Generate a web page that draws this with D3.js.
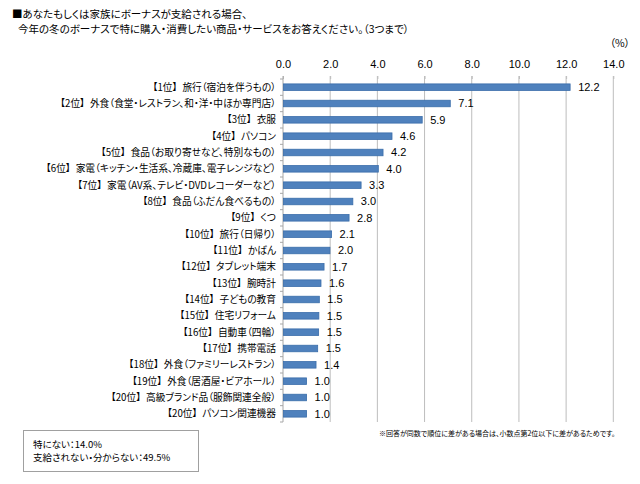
<!DOCTYPE html>
<html><head><meta charset="utf-8">
<script src="https://cdn.jsdelivr.net/npm/d3@7"></script>
<style>
body{margin:0;background:#fff;}
svg text{font-family:"Noto Sans CJK JP","Noto Sans",sans-serif;font-feature-settings:"palt";}
.num{font-family:"Liberation Sans",Arial,sans-serif !important;}
</style></head>
<body>
<svg id="c" width="640" height="484"></svg>
<script>
const titleLines = ["■あなたもしくは家族にボーナスが支給される場合、","今年の冬のボーナスで特に購入・消費したい商品・サービスをお答えください。（3つまで）"];
const ranks = ["【1位】","【2位】","【3位】","【4位】","【5位】","【6位】","【7位】","【8位】","【9位】","【10位】","【11位】","【12位】","【13位】","【14位】","【15位】","【16位】","【17位】","【18位】","【19位】","【20位】","【20位】"];
const items = ["旅行（宿泊を伴うもの）","外食（食堂・レストラン、和・洋・中ほか専門店）","衣服","パソコン","食品（お取り寄せなど、特別なもの）","家電（キッチン・生活系、冷蔵庫、電子レンジなど）","家電（AV系、テレビ・DVDレコーダーなど）","食品（ふだん食べるもの）","くつ","旅行（日帰り）","かばん","タブレット端末","腕時計","子どもの教育","住宅リフォーム","自動車（四輪）","携帯電話","外食（ファミリーレストラン）","外食（居酒屋・ビアホール）","高級ブランド品（服飾関連全般）","パソコン関連機器"];
const values = [12.17,7.09,5.9,4.62,4.24,4.04,3.31,2.96,2.8,2.06,1.99,1.74,1.61,1.54,1.52,1.51,1.47,1.4,1.0,1.0,1.0];
const xTicks = [0,2,4,6,8,10,12,14];
const unitLabel = "（%）";
const noteText = "※回答が同数で順位に差がある場合は、小数点第2位以下に差があるためです。";
const boxLines = ["特にない：14.0%","支給されない・分からない：49.5%"];

const svg = d3.select("#c");
const x = d3.scaleLinear().domain([0,14]).range([283,613.3]);
const keys = ranks.map((r,i)=>i);
const y = d3.scaleBand().domain(keys).range([79,422]).paddingInner(0.6).paddingOuter(0.3);
const fmt = d3.format(".1f");

// title
svg.append("text").attr("x",12).attr("y",18).attr("font-size",10.5).attr("fill","#000").text(titleLines[0]);
svg.append("text").attr("x",18).attr("y",33).attr("font-size",10.5).attr("fill","#000").text(titleLines[1]);
svg.append("text").attr("x",630).attr("y",47).attr("text-anchor","end").attr("font-size",10.5).attr("fill","#000").text(unitLabel);

// gridlines
svg.append("g").selectAll("line").data(xTicks.slice(1)).join("line")
  .attr("x1",d=>x(d)).attr("x2",d=>x(d)).attr("y1",76).attr("y2",422)
  .attr("stroke","#bdbdbd").attr("stroke-width",1);

// top axis
const ax = svg.append("g").attr("transform","translate(0,79)")
  .call(d3.axisTop(x).tickValues(xTicks).tickFormat(fmt).tickSize(3).tickPadding(8));
ax.select(".domain").remove();
ax.selectAll(".tick line").attr("stroke","#bdbdbd");
ax.selectAll(".tick text").attr("class","num").attr("font-size",11).attr("fill","#000");

// left axis line and category ticks at band boundaries
svg.append("line").attr("x1",x(0)).attr("x2",x(0)).attr("y1",76).attr("y2",422).attr("stroke","#a6a6a6");
const step = y.step();
const y0 = y.range()[0];
const bounds = d3.range(keys.length+1).map(i=>y0 + i*(y.range()[1]-y0)/keys.length);
svg.append("g").selectAll("line").data(bounds).join("line")
  .attr("x1",x(0)-3).attr("x2",x(0)).attr("y1",d=>d).attr("y2",d=>d)
  .attr("stroke","#a6a6a6");

// bars
svg.append("g").selectAll("rect").data(values).join("rect")
  .attr("x",x(0)+0.5).attr("y",(d,i)=>y(i))
  .attr("width",d=>x(d)-x(0)-0.5).attr("height",y.bandwidth())
  .attr("fill","#4F81BD").attr("stroke","#3A6DAA").attr("stroke-width",0.8);

// value labels
svg.append("g").selectAll("text").data(values).join("text")
  .attr("class","num")
  .attr("x",d=>x(d)+8).attr("y",(d,i)=>y(i)+y.bandwidth()/2).attr("dy","0.36em")
  .attr("font-size",11).attr("fill","#000").text(d=>fmt(d));

// category labels
const cl = svg.append("g").selectAll("text").data(keys).join("text")
  .attr("x",276).attr("y",i=>y(i)+y.bandwidth()/2).attr("dy","0.36em")
  .attr("text-anchor","end").attr("font-size",9.7).attr("fill","#000");
cl.append("tspan").text(i=>ranks[i]);
cl.append("tspan").attr("dx",5).text(i=>items[i]);

// note
svg.append("text").attr("x",379).attr("y",436).attr("font-size",7).attr("fill","#000").text(noteText);

// box
svg.append("rect").attr("x",23.5).attr("y",430.5).attr("width",175).attr("height",41).attr("fill","#fff").attr("stroke","#a0a0a0");
boxLines.forEach((t,i)=>{
  svg.append("text").attr("x",33).attr("y",448+i*12.5).attr("font-size",9.5).attr("fill","#000").text(t);
});
</script>
</body></html>
